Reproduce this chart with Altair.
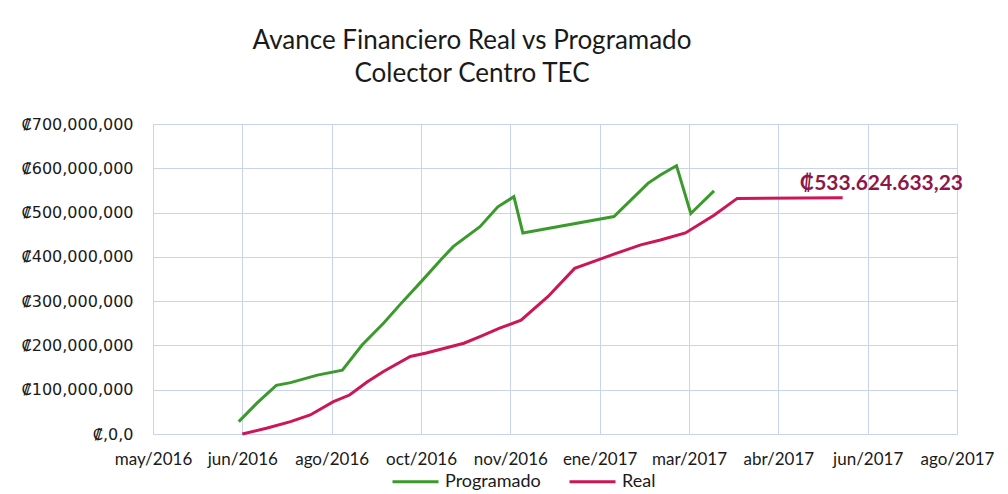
import altair as alt
import pandas as pd

# ---- data ----
prog_dates = ["2016-06-27", "2016-07-07", "2016-07-18", "2016-07-26", "2016-08-10",
              "2016-08-24", "2016-09-04", "2016-09-16", "2016-09-25", "2016-10-08",
              "2016-10-18", "2016-10-25", "2016-11-09", "2016-11-19", "2016-11-28",
              "2016-12-03", "2017-01-23", "2017-02-11", "2017-02-18", "2017-02-27",
              "2017-03-07", "2017-03-20"]
prog_values = [28e6, 69e6, 110e6, 116e6, 133e6,
               144e6, 201e6, 250e6, 291e6, 348e6,
               393e6, 423e6, 468e6, 513e6, 536e6,
               454e6, 491e6, 566e6, 585e6, 606e6,
               498e6, 549e6]

real_dates = ["2016-06-29", "2016-07-13", "2016-07-26", "2016-08-06", "2016-08-19",
              "2016-08-28", "2016-09-07", "2016-09-16", "2016-10-01", "2016-10-10",
              "2016-10-31", "2016-11-09", "2016-11-20", "2016-12-02", "2016-12-17",
              "2017-01-01", "2017-01-23", "2017-02-07", "2017-02-18", "2017-03-04",
              "2017-03-20", "2017-04-02", "2017-05-31"]
real_values = [0, 13.5e6, 28e6, 43e6, 73e6,
               88e6, 118e6, 141e6, 175e6, 183e6,
               205e6, 220e6, 239e6, 257e6, 310e6,
               374e6, 406e6, 427e6, 438e6, 454e6,
               494e6, 532e6, 533624633.23]

final_label = "₡533.624.633,23"

series_names = ["Programado", "Real"]
series_colors = ["#3b9a2c", "#cc1656"]

# x axis: Excel date axis, one tick every 50 days
tick_start = (2016, 5, 10)
tick_end = (2017, 8, 3)
tick_step_days = 50
tick_dates = [(2016, 5, 10), (2016, 6, 29), (2016, 8, 18), (2016, 10, 7), (2016, 11, 26),
              (2017, 1, 15), (2017, 3, 6), (2017, 4, 25), (2017, 6, 14), (2017, 8, 3)]
tick_labels = ["may/2016", "jun/2016", "ago/2016", "oct/2016", "nov/2016",
               "ene/2017", "mar/2017", "abr/2017", "jun/2017", "ago/2017"]

y_ticks = [0, 100e6, 200e6, 300e6, 400e6, 500e6, 600e6, 700e6]

title_lines = ["Avance Financiero Real vs Programado", "Colector Centro TEC"]

# ---- build table ----
rows = []
for d, v in zip(prog_dates, prog_values):
    rows.append({"fecha": d + "T00:00:00", "valor": v, "serie": "Programado"})
for d, v in zip(real_dates, real_values):
    rows.append({"fecha": d + "T00:00:00", "valor": v, "serie": "Real"})
df = pd.DataFrame(rows)

last = pd.DataFrame([{"fecha": real_dates[-1] + "T00:00:00", "valor": real_values[-1],
                      "etiqueta": final_label}])

GRID = "#c9d3f0"
FONT = "Lato"
TXT = "#1a1a1a"

labels_js = "[" + ",".join("'" + t + "'" for t in tick_labels) + "]"
step_ms = tick_step_days * 86400000
x_label_expr = (f"{labels_js}[round((datum.value - datetime({tick_start[0]},{tick_start[1]-1},{tick_start[2]})) / {step_ms})]")

x_enc = alt.X(
    "fecha:T",
    scale=alt.Scale(domain=[alt.DateTime(year=tick_start[0], month=tick_start[1], date=tick_start[2]),
                            alt.DateTime(year=tick_end[0], month=tick_end[1], date=tick_end[2])],
                    nice=False),
    axis=alt.Axis(
        title=None,
        values=[alt.DateTime(year=y, month=m, date=d) for (y, m, d) in tick_dates],
        labelExpr=x_label_expr,
        ticks=False, domain=False,
        grid=True, gridColor=GRID, gridWidth=1,
        labelFont=FONT, labelFontSize=17, labelColor=TXT,
        labelPadding=17, labelFlush=False, labelOverlap=False,
    ),
)
y_enc = alt.Y(
    "valor:Q",
    scale=alt.Scale(domain=[0, 700e6], nice=False),
    axis=alt.Axis(
        title=None,
        values=y_ticks,
        labelExpr="datum.value == 0 ? '₡,0,0' : '₡' + format(datum.value, ',')",
        ticks=False, domain=False,
        grid=True, gridColor=GRID, gridWidth=1,
        labelFont="DejaVu Sans", labelFontSize=16, labelColor=TXT,
        labelPadding=20,
    ),
)

lines = alt.Chart(df).mark_line(strokeWidth=3).encode(
    x=x_enc,
    y=y_enc,
    color=alt.Color(
        "serie:N",
        scale=alt.Scale(domain=series_names, range=series_colors),
        legend=alt.Legend(
            title=None, orient="none", direction="horizontal",
            legendX=238, legendY=333,
            symbolType="stroke", symbolSize=2116, symbolStrokeWidth=3,
            labelFont=FONT, labelFontSize=18, labelColor=TXT,
            labelOffset=5, columnPadding=22,
        ),
    ),
    order=alt.Order("fecha:T"),
)

annot = alt.Chart(last).mark_text(
    align="left", baseline="alphabetic", dx=-43, dy=-8,
    font=FONT, fontSize=21, fontWeight="bold", color="#8e1748",
).encode(x="fecha:T", y="valor:Q", text="etiqueta:N")

chart = alt.layer(lines, annot).properties(
    width=804, height=310,
    autosize=alt.AutoSizeParams(type="none"),
    padding={"left": 145, "top": 116, "right": 43, "bottom": 60},
    title=alt.Title(title_lines, font=FONT, fontSize=26, fontWeight="normal",
                    color=TXT, anchor="middle", dx=-83, offset=29, lineHeight=33),
).configure_view(stroke=GRID, strokeWidth=1.5).configure(background="white")

chart.save("out.html", embed_options={"renderer": "svg", "actions": False})
